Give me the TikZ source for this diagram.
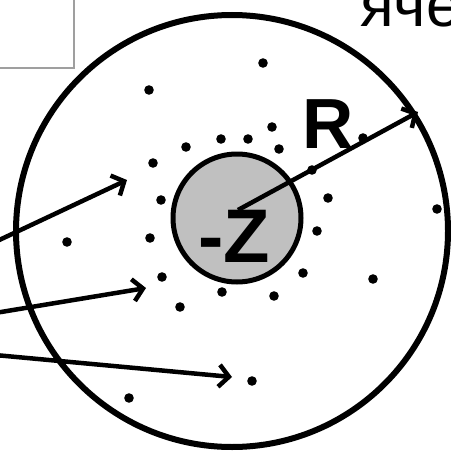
\documentclass[tikz,border=0pt]{standalone}
\usepackage{fontspec}
\setmainfont{Liberation Sans}
\usetikzlibrary{arrows.meta}

\begin{document}
\begin{tikzpicture}[x=1pt, y=-1pt, >={Straight Barb[length=10pt,width=22pt]},
    charge/.style={font=\bfseries\fontsize{76}{80}\selectfont, inner sep=0pt, anchor=base},
    dot/.style={fill=black}]
    \useasboundingbox (0,0) rectangle (450,452);

    % Define coordinates
    \coordinate (O) at (232,231);
    \coordinate (N) at (237,218);
    \coordinate (Nc) at (238,210);
    \coordinate (Rend) at (418,112);
    \coordinate (L1) at (-5,242);
    \coordinate (L2) at (-5,313);
    \coordinate (L3) at (-5,355);
    \coordinate (T1) at (127,180);
    \coordinate (T2) at (146,288);
    \coordinate (T3) at (232,377);

    % Box in the corner
    \draw[gray!75, line width=1.8pt, fill=white] (-5,-5) rectangle (74,68);

    % Draw the cell and the nucleus
    \draw[line width=6pt] (O) circle [radius=216pt];
    \draw[line width=5pt, fill={rgb,255:red,192;green,192;blue,192}] (N) circle [radius=64pt];

    % Electrons
    \foreach \p in {(263,63),(149,90),(272,127),(221,139),(248,139),(186,147),(279,149),
        (363,138),(153,163),(312,170),(328,198),(161,200),(437,209),(150,238),(67,242),
        (317,231),(162,277),(303,273),(373,279),(222,292),(274,296),(180,307),(252,381),(129,398)}
        \fill[dot] \p circle [radius=4.8pt];

    % Draw vectors
    \draw[->, line width=4.5pt] (Nc) -- (Rend);
    \draw[->, line width=4.5pt] (L1) -- (T1);
    \draw[->, line width=4.5pt] (L2) -- (T2);
    \draw[->, line width=4.5pt] (L3) -- (T3);

    % Labels
    \node[charge] (Z) at (234.5,262) {-Z};
    \node[charge, font=\bfseries\fontsize{71}{75}\selectfont] (R) at (328.5,148) {R};
    \node[inner sep=0pt, anchor=base west, font=\fontsize{62}{66}\selectfont] (cell) at (360,27) {ячейка};
\end{tikzpicture}
\end{document}
